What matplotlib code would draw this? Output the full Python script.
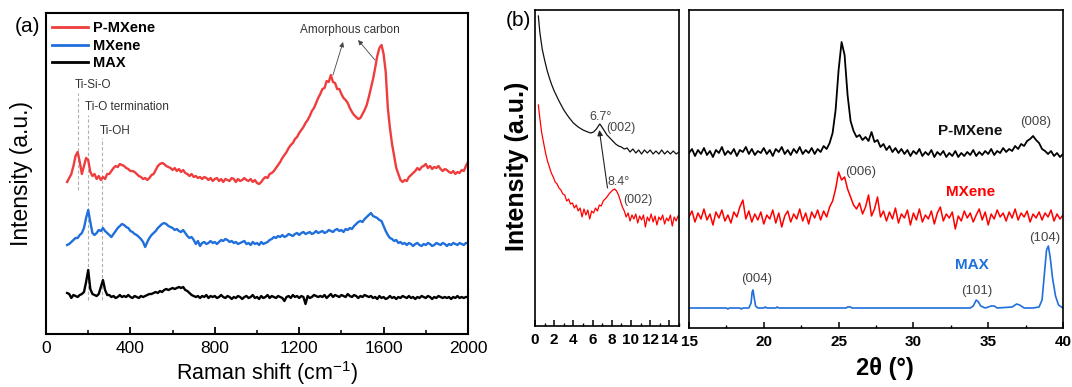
import numpy as np
import matplotlib
matplotlib.use('Agg')
import matplotlib.pyplot as plt
from matplotlib.ticker import MultipleLocator

plt.rcParams['font.family'] = ['Liberation Sans', 'DejaVu Sans']
plt.rcParams['mathtext.fontset'] = 'custom'
plt.rcParams['mathtext.rm'] = 'Liberation Sans'
plt.rcParams['mathtext.bf'] = 'Liberation Sans:bold'

# ---------------- Panel (a): Raman spectra (100..2000 cm-1, step 10) ----------------
raman_start, raman_step = 100, 10
raman_pmxene = [
    152, 156, 160, 168, 178, 182, 172, 160, 168, 176,
    174, 162, 158, 160, 155, 158, 154, 157, 155, 160,
    160, 163, 166, 168, 167, 170, 169, 168, 166, 165,
    163, 163, 162, 160, 158, 157, 155, 156, 154, 156,
    159, 160, 164, 168, 170, 171, 170, 168, 167, 166,
    164, 166, 163, 165, 162, 164, 161, 160, 158, 160,
    157, 158, 156, 157, 155, 157, 156, 154, 156, 153,
    155, 156, 153, 155, 152, 155, 154, 153, 156, 155,
    152, 155, 153, 154, 156, 154, 153, 155, 152, 154,
    151, 150, 152, 155, 157, 156, 160, 161, 163, 166,
    169, 172, 176, 179, 182, 186, 189, 191, 195, 197,
    201, 204, 207, 211, 214, 218, 223, 226, 231, 236,
    240, 245, 246, 253, 252, 259, 252, 251, 245, 245,
    240, 236, 234, 231, 226, 222, 219, 217, 215, 216,
    220, 224, 229, 237, 246, 255, 266, 278, 286, 289,
    280, 262, 226, 206, 190, 178, 166, 160, 154, 152,
    154, 153, 157, 159, 161, 163, 166, 164, 167, 168,
    170, 166, 168, 165, 167, 166, 168, 165, 163, 165,
    164, 162, 161, 163, 160, 162, 161, 164, 163, 168,
    172]
raman_mxene = [
    89, 90, 92, 94, 96, 96, 99, 101, 106, 116,
    124, 112, 101, 99, 101, 104, 103, 106, 103, 101,
    99, 97, 100, 103, 106, 108, 110, 109, 107, 106,
    103, 102, 100, 99, 97, 95, 92, 87, 92, 96,
    99, 101, 103, 106, 108, 110, 111, 110, 108, 107,
    106, 104, 105, 103, 102, 104, 101, 98, 96, 97,
    94, 90, 93, 88, 91, 92, 90, 91, 93, 91,
    92, 90, 92, 94, 93, 95, 94, 92, 93, 91,
    92, 90, 91, 92, 93, 90, 91, 89, 92, 90,
    91, 89, 92, 90, 91, 92, 94, 95, 97, 96,
    98, 97, 99, 97, 98, 100, 99, 98, 100, 101,
    99, 101, 102, 100, 101, 102, 100, 101, 103, 101,
    102, 103, 101, 102, 104, 103, 102, 104, 105, 103,
    104, 102, 105, 104, 106, 105, 108, 110, 112, 113,
    112, 115, 117, 119, 121, 118, 117, 116, 114, 113,
    108, 103, 99, 96, 95, 93, 94, 91, 92, 90,
    91, 89, 91, 90, 88, 90, 91, 89, 88, 90,
    89, 91, 90, 88, 89, 91, 90, 89, 91, 90,
    88, 90, 89, 91, 90, 89, 91, 90, 89, 91,
    91]
raman_max = [
    41, 40, 36, 39, 38, 37, 39, 40, 42, 52,
    64, 45, 40, 39, 38, 40, 47, 54, 44, 39,
    39, 37, 38, 36, 37, 39, 37, 38, 37, 39,
    37, 36, 38, 37, 36, 38, 37, 38, 39, 40,
    40, 41, 42, 41, 43, 42, 44, 45, 44, 45,
    46, 45, 46, 47, 46, 47, 44, 43, 41, 39,
    38, 37, 38, 36, 38, 37, 39, 36, 38, 37,
    38, 36, 37, 39, 37, 36, 38, 37, 35, 37,
    36, 38, 37, 35, 37, 38, 36, 37, 39, 36,
    37, 35, 38, 36, 37, 39, 36, 38, 37, 36,
    38, 37, 36, 33, 37, 38, 36, 39, 37, 38,
    36, 38, 37, 30, 38, 36, 37, 39, 38, 37,
    38, 37, 39, 36, 38, 40, 37, 39, 38, 37,
    39, 38, 37, 40, 38, 37, 39, 38, 36, 38,
    37, 39, 38, 37, 38, 36, 37, 35, 38, 36,
    37, 35, 36, 38, 36, 37, 35, 37, 36, 38,
    37, 36, 38, 36, 37, 35, 37, 36, 38, 37,
    36, 38, 37, 35, 37, 36, 38, 37, 36, 37,
    36, 37, 35, 37, 36, 38, 36, 37, 36, 37,
    37]
raman_labels = ['P-MXene', 'MXene', 'MAX']
raman_colors = ['#ef3d3d', '#1f6fdc', '#000000']
raman_ticks = [0, 400, 800, 1200, 1600, 2000]
band_pos = [150, 197, 267]
band_names = ['Ti-Si-O', 'Ti-O termination', 'Ti-OH']

# ---------------- Panel (b) left: low-angle XRD ----------------
low_ticks = [0, 2, 4, 6, 8, 10, 12, 14]
low_pm_x = [0.35, 0.5, 0.75, 1.0, 1.25, 1.5, 1.75, 2.0, 2.5, 3.0,
            3.5, 4.0, 4.5, 5.0, 5.5, 5.8, 6.1, 6.4, 6.6, 6.75,
            6.9, 7.1, 7.3, 7.5, 7.8, 8.1, 8.4, 8.7, 9.0, 9.3,
            9.6, 9.9, 10.2, 10.5, 10.8, 11.1, 11.4, 11.7, 12.0, 12.3,
            12.6, 12.9, 13.2, 13.5, 13.8, 14.1, 14.4, 14.7, 15.0]
low_pm_y = [371, 355, 338, 327, 317, 309, 302, 296, 286, 277,
            270, 264, 260, 257, 255, 254, 255, 258, 261, 263,
            261, 258, 255, 252, 249, 246, 243, 241, 240, 238,
            239, 235, 238, 234, 237, 233, 237, 234, 237, 233,
            236, 233, 237, 233, 236, 233, 236, 233, 235]
low_mx_first = 0.35
low_mx_y = [282, 269, 254, 244, 234, 226, 220, 214, 210, 205,
            203, 199, 197, 193, 192, 186, 188, 183, 184, 179,
            182, 176, 179, 170, 178, 172, 177, 168, 176, 174,
            179, 176, 182, 181, 186, 188, 190, 193, 195, 197,
            198, 196, 192, 186, 180, 176, 170, 174, 166, 172,
            168, 173, 164, 171, 167, 172, 160, 170, 166, 173,
            165, 171, 162, 170, 167, 172, 163, 169, 166, 172,
            161, 170, 166, 171]

# ---------------- Panel (b) right: XRD 15..40 deg (step 0.2) ----------------
xrd_ticks = [15, 20, 25, 30, 35, 40]
xrd_start, xrd_step = 15.0, 0.2
xrd_pmxene = [
    234, 238, 231, 237, 233, 239, 232, 236, 230, 237,
    234, 240, 232, 236, 233, 238, 231, 237, 235, 240,
    233, 238, 232, 236, 234, 239, 233, 237, 231, 238,
    235, 240, 233, 237, 232, 238, 234, 240, 233, 237,
    234, 239, 233, 238, 235, 241, 238, 244, 254, 277,
    317, 345, 332, 292, 266, 256, 250, 252, 247, 250,
    246, 255, 245, 247, 240, 243, 237, 241, 235, 239,
    234, 238, 233, 237, 231, 236, 233, 238, 231, 235,
    232, 237, 230, 235, 232, 236, 230, 234, 231, 236,
    230, 234, 231, 235, 232, 237, 231, 235, 232, 236,
    233, 238, 232, 236, 234, 239, 235, 238, 236, 241,
    238, 243, 241, 246, 248, 251, 247, 244, 238, 236,
    233, 236, 231, 234, 230, 233]
xrd_mxene = [
    170, 176, 165, 174, 168, 178, 167, 173, 162, 175,
    169, 177, 166, 172, 164, 175, 170, 180, 187, 168,
    176, 165, 173, 167, 175, 163, 172, 168, 177, 164,
    174, 160, 171, 176, 165, 173, 168, 178, 166, 174,
    163, 175, 169, 177, 167, 176, 170, 180, 186, 198,
    215, 207, 210, 198, 190, 182, 178, 184, 173, 180,
    192, 171, 178, 190, 170, 176, 166, 175, 168, 179,
    164, 173, 169, 177, 162, 174, 167, 178, 165, 172,
    168, 176, 163, 174, 180, 166, 173, 169, 175, 158,
    171, 166, 176, 169, 174, 165, 172, 178, 167, 175,
    162, 173, 168, 177, 170, 174, 166, 175, 169, 178,
    167, 174, 170, 176, 165, 173, 169, 175, 167, 174,
    170, 177, 166, 173, 168, 172]
xrd_max_x = [15, 17.5, 17.6, 17.7, 18.4, 18.5, 18.6, 19.0, 19.15, 19.22,
             19.28, 19.35, 19.45, 19.6, 20.0, 20.1, 20.2, 20.8, 20.9, 21.0,
             25.5, 25.6, 25.8, 25.9, 33.8, 34.0, 34.2, 34.35, 34.5, 34.8,
             35.0, 35.2, 35.4, 35.6, 36.6, 36.8, 36.9, 37.1, 37.4, 38.0,
             38.4, 38.6, 38.75, 38.9, 39.02, 39.15, 39.3, 39.5, 39.7, 40]
xrd_max_y = [79, 79, 78, 79, 79, 78, 79, 79, 84, 95,
             97, 90, 81, 79, 79, 80, 79, 79, 80, 79,
             79, 80, 80, 79, 79, 81, 87, 85, 81, 79,
             80, 81, 81, 79, 80, 82, 83, 82, 79, 79,
             80, 87, 112, 137, 141, 129, 109, 91, 82, 79]

TXT = '#333333'
GT = '#444444'

fig = plt.figure(figsize=(10.72, 3.87), dpi=100)
W, H = 1072, 387

def box(l, t, r, b):
    return [l / W, 1 - b / H, (r - l) / W, (b - t) / H]

# ---------- (a) ----------
axa = fig.add_axes(box(46, 13, 468, 334))
for ys, lab, col in zip([raman_pmxene, raman_mxene, raman_max], raman_labels, raman_colors):
    xx = raman_start + raman_step * np.arange(len(ys))
    axa.plot(xx, ys, color=col, lw=1.7, label=lab)
axa.set_xlim(0, 2000)
axa.set_ylim(0, 321)
axa.set_yticks([])
axa.set_xticks(raman_ticks)
axa.set_xticklabels([str(t) for t in raman_ticks])
axa.xaxis.set_minor_locator(MultipleLocator(200))
axa.tick_params(axis='x', which='major', direction='in', length=5, width=1.3, labelsize=12.5, pad=5)
axa.tick_params(axis='x', which='minor', direction='in', length=3, width=1.1)
for s in axa.spines.values():
    s.set_linewidth(1.5)
axa.set_xlabel('Raman shift (cm$^{-1}$)', fontsize=15.5)
axa.xaxis.set_label_coords(0.525, -0.078)
axa.set_ylabel('Intensity (a.u.)', fontsize=16.5)
axa.yaxis.set_label_coords(-0.03, 0.5)

band_top = [241, 219, 196]
band_bot = [144, 34, 34]
for xp_, t, b in zip(band_pos, band_top, band_bot):
    axa.plot([xp_, xp_], [b, t], ls=(0, (3, 2)), color='#b0b0b0', lw=0.8, zorder=0)
axa.text(137, 249, band_names[0], fontsize=8.5, color=TXT, ha='left', va='center')
axa.text(185, 227, band_names[1], fontsize=8.5, color=TXT, ha='left', va='center')
axa.text(256, 203, band_names[2], fontsize=8.5, color=TXT, ha='left', va='center')

axa.text(1441, 304, 'Amorphous carbon', fontsize=8.5, color=TXT, ha='center', va='center')
for head, tail in [((1408, 292), (1360, 259)), ((1479, 294), (1559, 274))]:
    axa.annotate('', xy=head, xytext=tail,
                 arrowprops=dict(arrowstyle='-|>', color='#444444', lw=0.6, mutation_scale=7,
                                 shrinkA=0, shrinkB=0))

leg = axa.legend(loc='upper left', bbox_to_anchor=(0.014, 0.975), frameon=False,
                 prop={'weight': 'bold', 'size': 10.5}, borderpad=0, borderaxespad=0,
                 handlelength=2.5, handletextpad=0.35, labelspacing=0.25)
for ln in leg.get_lines():
    ln.set_linewidth(2)

fig.text(27 / W, 1 - 26 / H, '(a)', fontsize=15, ha='center', va='center')

# ---------- (b) left ----------
axl = fig.add_axes(box(535, 10, 679, 326))
axl.plot(low_pm_x, low_pm_y, color='#111111', lw=0.9)
lmx = np.concatenate(([low_mx_first], 0.5 + 0.2 * np.arange(len(low_mx_y) - 1)))
axl.plot(lmx, low_mx_y, color='#ff0000', lw=0.9)
axl.set_xlim(0, 15)
axl.set_ylim(61, 377)
axl.set_yticks([])
axl.set_xticks(low_ticks)
axl.set_xticklabels([str(t) for t in low_ticks], fontweight='bold')
axl.xaxis.set_minor_locator(MultipleLocator(1))
axl.tick_params(axis='x', which='major', direction='in', length=4, width=1.1, labelsize=11, pad=5)
axl.tick_params(axis='x', which='minor', direction='in', length=2.5, width=1.0)
for s in axl.spines.values():
    s.set_linewidth(1.2)
axl.set_ylabel('Intensity (a.u.)', fontsize=18, fontweight='bold')
axl.yaxis.set_label_coords(-0.04, 0.505)
axl.text(6.85, 270, '6.7°', fontsize=9, color=GT, ha='center', va='center')
axl.text(8.9, 259, '(002)', fontsize=9, color=GT, ha='center', va='center')
axl.text(8.7, 205, '8.4°', fontsize=9, color=GT, ha='center', va='center')
axl.text(10.7, 187, '(002)', fontsize=9, color=GT, ha='center', va='center')
axl.annotate('', xy=(6.7, 257), xytext=(7.55, 199),
             arrowprops=dict(arrowstyle='-|>', color='#222222', lw=0.8, mutation_scale=8,
                             shrinkA=0, shrinkB=0))
fig.text(518 / W, 1 - 21 / H, '(b)', fontsize=15, ha='center', va='center')

# ---------- (b) right ----------
axr = fig.add_axes(box(689, 10, 1063, 328))
xp = xrd_start + xrd_step * np.arange(len(xrd_pmxene))
axr.plot(xp, xrd_pmxene, color='#000000', lw=1.3)
xm = xrd_start + xrd_step * np.arange(len(xrd_mxene))
axr.plot(xm, xrd_mxene, color='#ff0000', lw=1.1)
axr.plot(xrd_max_x, xrd_max_y, color='#1f6fdc', lw=1.2)
axr.set_xlim(15, 40)
axr.set_ylim(59, 377)
axr.set_yticks([])
axr.set_xticks(xrd_ticks)
axr.set_xticklabels([str(t) for t in xrd_ticks], fontweight='bold')
axr.xaxis.set_minor_locator(MultipleLocator(2.5))
axr.tick_params(axis='x', which='major', direction='in', length=4, width=1.1, labelsize=11, pad=5)
axr.tick_params(axis='x', which='minor', direction='in', length=2.5, width=1.0)
for s in axr.spines.values():
    s.set_linewidth(1.2)
axr.set_xlabel('2θ (°)', fontsize=17, fontweight='bold')
axr.xaxis.set_label_coords(0.524, -0.09)

axr.text(33.8, 256, 'P-MXene', fontsize=11, fontweight='bold', color='#111111', ha='center', va='center')
axr.text(38.2, 265, '(008)', fontsize=9.5, color=GT, ha='center', va='center')
axr.text(26.5, 215, '(006)', fontsize=9.5, color=GT, ha='center', va='center')
axr.text(33.85, 195, 'MXene', fontsize=11, fontweight='bold', color='#ff0000', ha='center', va='center')
axr.text(38.8, 149, '(104)', fontsize=9.5, color=GT, ha='center', va='center')
axr.text(33.9, 122, 'MAX', fontsize=11, fontweight='bold', color='#1f6fdc', ha='center', va='center')
axr.text(19.5, 108, '(004)', fontsize=9.5, color=GT, ha='center', va='center')
axr.text(34.25, 96, '(101)', fontsize=9.5, color=GT, ha='center', va='center')

fig.savefig('out.png', dpi=100)
